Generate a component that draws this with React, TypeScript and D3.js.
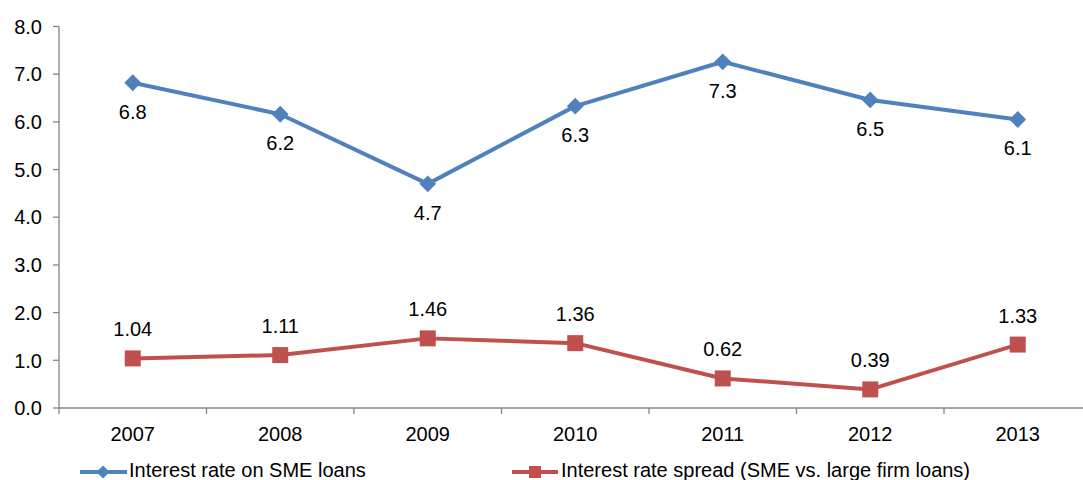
import React from "react";
import * as d3 from "d3";

const years = ["2007", "2008", "2009", "2010", "2011", "2012", "2013"];
const smeRate = [6.82, 6.16, 4.7, 6.33, 7.26, 6.46, 6.05];
const smeLabels = ["6.8", "6.2", "4.7", "6.3", "7.3", "6.5", "6.1"];
const spread = [1.04, 1.11, 1.46, 1.36, 0.62, 0.39, 1.33];
const spreadLabels = ["1.04", "1.11", "1.46", "1.36", "0.62", "0.39", "1.33"];
const yTicks = [0, 1, 2, 3, 4, 5, 6, 7, 8];
const seriesNames = ["Interest rate on SME loans", "Interest rate spread (SME vs. large firm loans)"];

const W = 1083, H = 480;
const BLUE = "#4F81BD", RED = "#C0504D", AXIS = "#868686";
const FONT = "Arial, 'Liberation Sans', sans-serif";
const FS = 20;

export default function App() {
  const x = d3.scaleBand<string>().domain(years).range([59, 1091.5]).padding(0);
  const y = d3.scaleLinear().domain([0, 8]).range([408, 26.5]);
  const cx = (i: number) => (x(years[i]) as number) + x.bandwidth() / 2;
  const line = d3.line<number>().x((_, i) => cx(i)).y((d) => y(d));
  const tickXs = years.map((yr) => x(yr) as number).concat([1091.5]);

  return (
    <svg width={W} height={H} style={{ position: "fixed", left: 0, top: 0, background: "#fff" }} fontFamily={FONT}>
      <rect width={W} height={H} fill="#fff" />
      {/* y axis */}
      <line x1={59} x2={59} y1={y(8)} y2={y(0)} stroke={AXIS} strokeWidth={1.3} />
      {yTicks.map((t) => (
        <g key={t}>
          <line x1={53} x2={59} y1={y(t)} y2={y(t)} stroke={AXIS} strokeWidth={1.3} />
          <text x={42} y={y(t)} dy="0.36em" textAnchor="end" fontSize={FS} fill="#000">
            {t.toFixed(1)}
          </text>
        </g>
      ))}
      {/* x axis */}
      <line x1={59} x2={W} y1={y(0)} y2={y(0)} stroke={AXIS} strokeWidth={1.3} />
      {tickXs.map((tx, i) => (
        <line key={i} x1={tx} x2={tx} y1={y(0)} y2={y(0) + 6} stroke={AXIS} strokeWidth={1.3} />
      ))}
      {years.map((yr, i) => (
        <text key={yr} x={cx(i)} y={441} textAnchor="middle" fontSize={FS} fill="#000">
          {yr}
        </text>
      ))}
      {/* blue series */}
      <path d={line(smeRate) as string} fill="none" stroke={BLUE} strokeWidth={4} strokeLinejoin="round" />
      {smeRate.map((v, i) => (
        <g key={i}>
          <path
            d={d3.symbol().type(d3.symbolDiamond2).size(180)() as string}
            transform={`translate(${cx(i)},${y(v)})`}
            fill={BLUE}
          />
          <text x={cx(i)} y={y(v) + 36} textAnchor="middle" fontSize={FS} fill="#000">
            {smeLabels[i]}
          </text>
        </g>
      ))}
      {/* red series */}
      <path d={line(spread) as string} fill="none" stroke={RED} strokeWidth={4} strokeLinejoin="round" />
      {spread.map((v, i) => (
        <g key={i}>
          <rect x={cx(i) - 8} y={y(v) - 8} width={16} height={16} fill={RED} />
          <text x={cx(i)} y={y(v) - 22} textAnchor="middle" fontSize={FS} fill="#000">
            {spreadLabels[i]}
          </text>
        </g>
      ))}
      {/* legend */}
      <g>
        <line x1={80} x2={127} y1={472} y2={472} stroke={BLUE} strokeWidth={4} />
        <path d={d3.symbol().type(d3.symbolDiamond2).size(110)() as string} transform="translate(103,472)" fill={BLUE} />
        <text x={129} y={477} fontSize={FS} fill="#000">{seriesNames[0]}</text>
        <line x1={512} x2={558} y1={472} y2={472} stroke={RED} strokeWidth={4} />
        <rect x={529} y={466} width={12} height={12} fill={RED} />
        <text x={561} y={477} fontSize={FS} fill="#000">{seriesNames[1]}</text>
      </g>
    </svg>
  );
}
